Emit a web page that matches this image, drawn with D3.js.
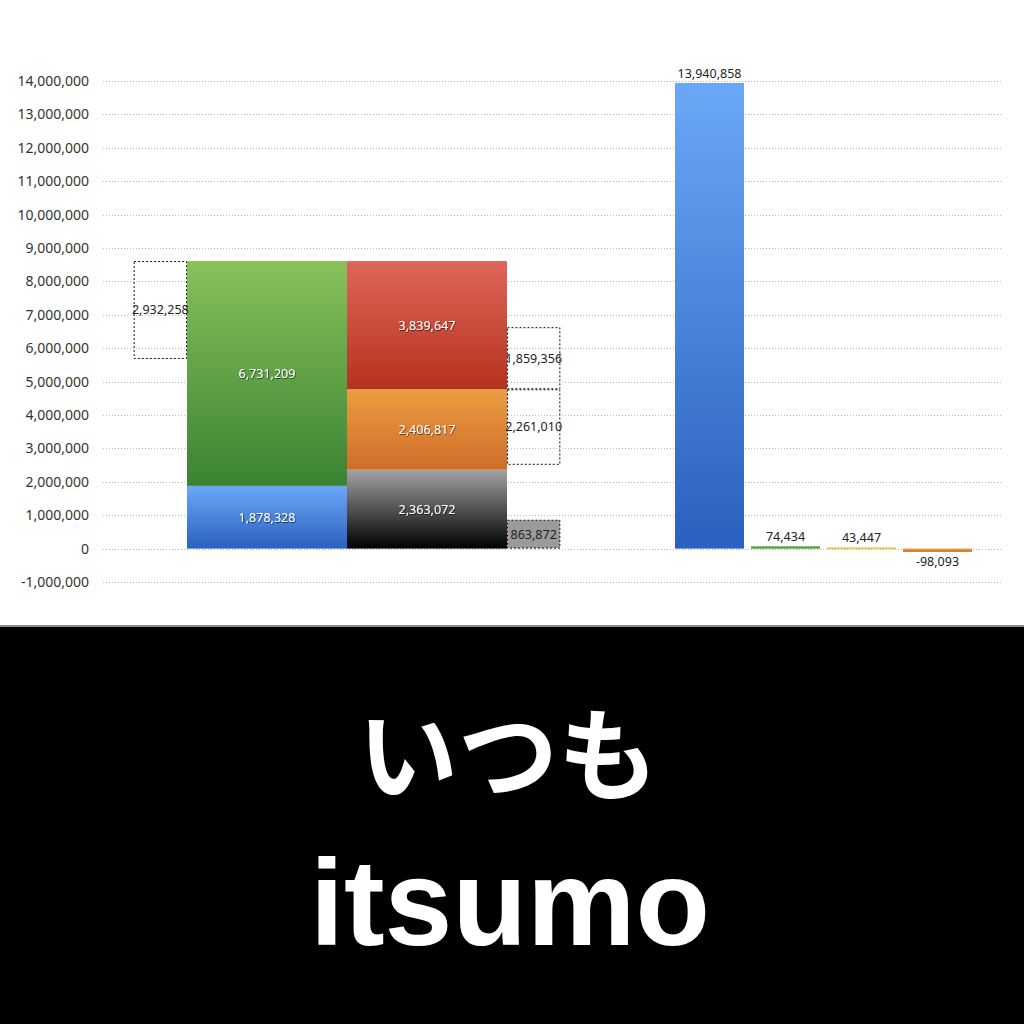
<!DOCTYPE html>
<html>
<head>
<meta charset="utf-8">
<script src="https://cdn.jsdelivr.net/npm/d3@7"></script>
<style>
  body { margin: 0; background: #fff; }
  svg { display: block; }
  .tick-label { font-family: "Noto Sans", sans-serif; font-size: 14px; fill: #333; }
  .value-label { font-family: "Noto Sans", sans-serif; font-size: 12.5px; }
</style>
</head>
<body>
<div id="chart"></div>
<script>
// data
const yTicks = d3.range(-1000000, 14000001, 1000000)
const col1Names = ["blue", "green"]
const col1Values = [1878328, 6731209]
const col2Names = ["black", "orange", "red"]
const col2Values = [2363072, 2406817, 3839647]
const diffValues = [2932258, 863872, 2261010, 1859356]
const totalNames = ["total", "green", "yellow", "orange"]
const totalValues = [13940858, 74434, 43447, -98093]

const GRADIENTS = {
  blue: ["#6aa8f7", "#2a60bf"],
  green: ["#87c25a", "#3a8233"],
  red: ["#df665a", "#b5321e"],
  orange: ["#eb9d42", "#cf6d29"],
  black: ["#a3a3a3", "#000000"],
  yellow: ["#f0e080", "#d8c040"]
}
const MARGINS = {left: 103, right: 21, top: 81, bottom: 582}

/*********************************************
// Helpers
*********************************************/
function stackUp(values) {
  let acc = 0
  return values.map((v) => {
    const row = {y0: acc, y1: acc + v, value: v}
    acc += v
    return row
  })
}

function fmt(v) {
  // plain hyphen for negatives, like the original
  return d3.format(",")(v).replace("\u2212", "-")
}

/*********************************************
// Drawing
*********************************************/
const width = 1024
const height = 1024
const svg = d3.select("#chart").append("svg")
  .attr("width", width)
  .attr("height", height)

const defs = svg.append("defs")
Object.entries(GRADIENTS).forEach(([name, stops]) => {
  const g = defs.append("linearGradient")
    .attr("id", `grad-${name}`)
    .attr("x1", 0).attr("y1", 0).attr("x2", 0).attr("y2", 1)
  g.append("stop").attr("offset", "0%").attr("stop-color", stops[0])
  g.append("stop").attr("offset", "100%").attr("stop-color", stops[1])
})
const shadow = defs.append("filter").attr("id", "shadow")
  .attr("x", "-10%").attr("y", "-30%").attr("width", "120%").attr("height", "160%")
shadow.append("feDropShadow")
  .attr("dx", 0.6).attr("dy", 0.8).attr("stdDeviation", 0.6)
  .attr("flood-color", "#000").attr("flood-opacity", 0.7)

const y = d3.scaleLinear()
  .domain([-1000000, 14000000])
  .range([MARGINS.bottom, MARGINS.top])

// grid lines + tick labels
const grid = svg.append("g").classed("grid", true)
grid.selectAll("line.grid-line")
  .data(yTicks).enter()
  .append("line")
  .classed("grid-line", true)
  .attr("x1", MARGINS.left)
  .attr("x2", width - MARGINS.right)
  .attr("y1", (d) => Math.round(y(d)) + 0.5)
  .attr("y2", (d) => Math.round(y(d)) + 0.5)
  .attr("stroke", "#bbb")
  .attr("stroke-width", 1)
  .attr("stroke-dasharray", "1,2")

grid.selectAll("text.tick-label")
  .data(yTicks).enter()
  .append("text")
  .classed("tick-label", true)
  .attr("x", 89)
  .attr("y", (d) => y(d))
  .attr("dy", "0.35em")
  .attr("text-anchor", "end")
  .text(fmt)

// left group: two stacked columns
const xCols = d3.scaleBand()
  .domain(["col1", "col2"])
  .range([187, 507])
  .padding(0)
const diffW = xCols.bandwidth() / 3

const stack1 = stackUp(col1Values).map((d, i) => ({...d, name: col1Names[i], col: "col1"}))
const stack2 = stackUp(col2Values).map((d, i) => ({...d, name: col2Names[i], col: "col2"}))
const segments = stack1.concat(stack2)

const bars = svg.append("g").classed("stacks", true)
bars.selectAll("rect.seg")
  .data(segments).enter()
  .append("rect")
  .classed("seg", true)
  .attr("x", (d) => xCols(d.col))
  .attr("width", xCols.bandwidth())
  .attr("y", (d) => y(d.y1))
  .attr("height", (d) => y(d.y0) - y(d.y1))
  .attr("fill", (d) => `url(#grad-${d.name})`)

bars.selectAll("text.seg-label")
  .data(segments).enter()
  .append("text")
  .classed("value-label", true)
  .attr("x", (d) => xCols(d.col) + xCols.bandwidth() / 2)
  .attr("y", (d) => y((d.y0 + d.y1) / 2))
  .attr("dy", "0.35em")
  .attr("text-anchor", "middle")
  .attr("fill", "#fff")
  .attr("filter", "url(#shadow)")
  .text((d) => fmt(d.value))

// dashed difference boxes
const col1Top = stack1[stack1.length - 1].y1
const orangeTop = stack2[1].y1
const diffBoxes = [
  {value: diffValues[0], x: xCols("col1") - diffW, y0: col1Top - diffValues[0], y1: col1Top, fill: "none"},
  {value: diffValues[1], x: xCols("col2") + xCols.bandwidth(), y0: 0, y1: diffValues[1], fill: "#9a9a9a"},
  {value: diffValues[2], x: xCols("col2") + xCols.bandwidth(), y0: orangeTop - diffValues[2], y1: orangeTop, fill: "none"},
  {value: diffValues[3], x: xCols("col2") + xCols.bandwidth(), y0: orangeTop, y1: orangeTop + diffValues[3], fill: "none"}
]

const diffs = svg.append("g").classed("diffs", true)
diffs.selectAll("rect.diff")
  .data(diffBoxes).enter()
  .append("rect")
  .classed("diff", true)
  .attr("x", (d) => d.x + 0.5)
  .attr("width", diffW - 1)
  .attr("y", (d) => y(d.y1) + 0.5)
  .attr("height", (d) => y(d.y0) - y(d.y1) - 1)
  .attr("fill", (d) => d.fill)
  .attr("stroke", "#111")
  .attr("stroke-width", 1)
  .attr("stroke-dasharray", "2,2")

diffs.selectAll("text.diff-label")
  .data(diffBoxes).enter()
  .append("text")
  .classed("value-label", true)
  .attr("x", (d) => d.x + diffW / 2)
  .attr("y", (d) => y((d.y0 + d.y1) / 2))
  .attr("dy", "0.35em")
  .attr("text-anchor", "middle")
  .attr("fill", "#222")
  .text((d) => fmt(d.value))

// right group: totals
const xTotals = d3.scaleBand()
  .domain(totalNames)
  .range([675, 972])
  .paddingInner(0.092)
  .paddingOuter(0)

const totals = totalNames.map((name, i) => ({name: name, value: totalValues[i]}))
const totalsG = svg.append("g").classed("totals", true)
totalsG.selectAll("rect.total")
  .data(totals).enter()
  .append("rect")
  .classed("total", true)
  .attr("x", (d) => xTotals(d.name))
  .attr("width", xTotals.bandwidth())
  .attr("y", (d) => y(Math.max(0, d.value)))
  .attr("height", (d) => Math.max(2, Math.abs(y(d.value) - y(0))))
  .attr("fill", (d) => `url(#grad-${d.name === "total" ? "blue" : d.name})`)

totalsG.selectAll("text.total-label")
  .data(totals).enter()
  .append("text")
  .classed("value-label", true)
  .attr("x", (d) => xTotals(d.name) + xTotals.bandwidth() / 2)
  .attr("y", (d) => d.value >= 0 ? y(d.value) - 5 : y(d.value) + 14)
  .attr("text-anchor", "middle")
  .attr("fill", "#222")
  .text((d) => fmt(d.value))

// caption panel
svg.append("rect")
  .attr("x", 0).attr("y", 625)
  .attr("width", width).attr("height", 3)
  .attr("fill", "#8a8a8a")
svg.append("rect")
  .attr("x", 0).attr("y", 627)
  .attr("width", width).attr("height", height - 627)
  .attr("fill", "#000")

svg.append("text")
  .attr("x", width / 2 - 4)
  .attr("y", 792)
  .attr("text-anchor", "middle")
  .attr("font-family", "'Noto Sans CJK JP', sans-serif")
  .attr("font-weight", 700)
  .attr("font-size", 100)
  .attr("fill", "#fff")
  .text("いつも")

svg.append("text")
  .attr("x", width / 2 - 2)
  .attr("y", 945)
  .attr("text-anchor", "middle")
  .attr("font-family", "'Liberation Sans', Arial, sans-serif")
  .attr("font-weight", 700)
  .attr("font-size", 122)
  .attr("fill", "#fff")
  .text("itsumo")
</script>
</body>
</html>
